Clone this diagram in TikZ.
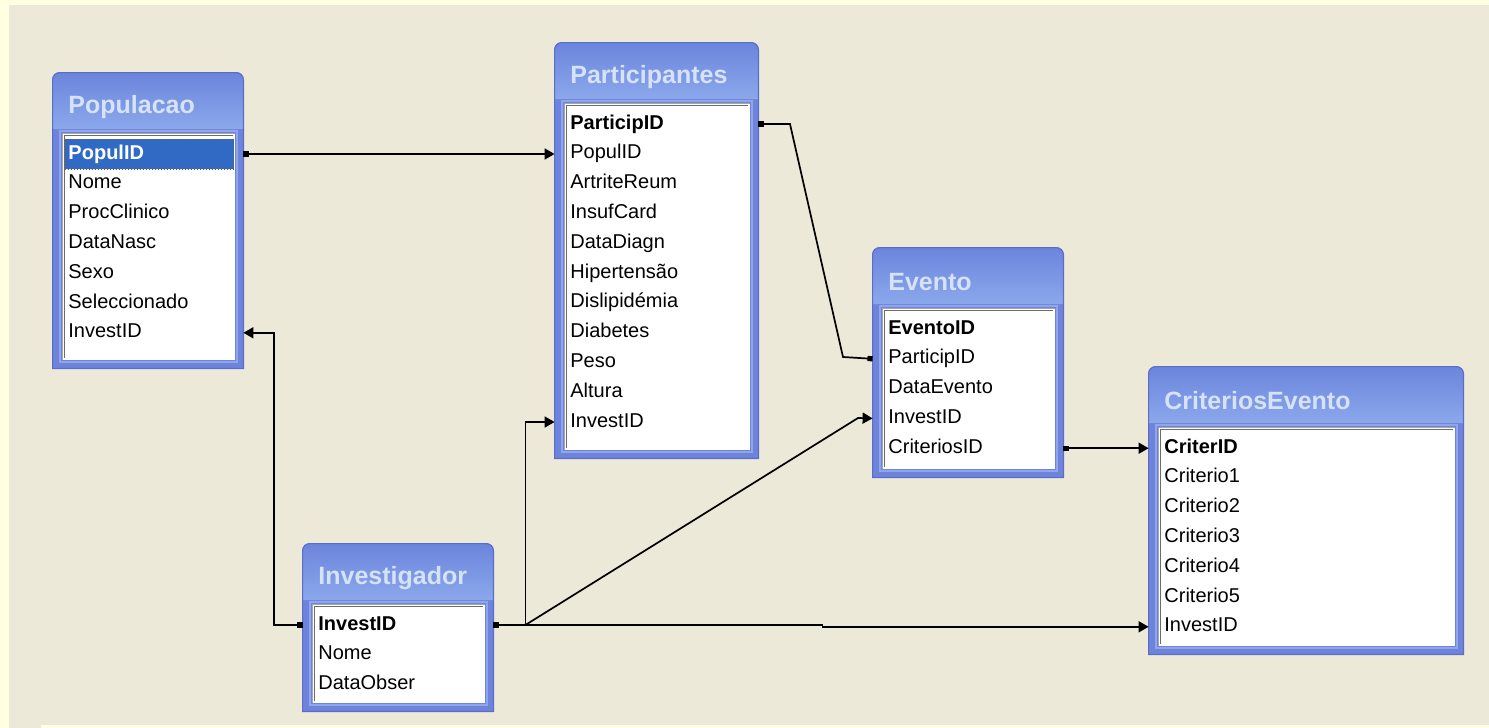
\documentclass[tikz,border=0pt]{standalone}
\usepackage{fontspec}
\setmainfont{Liberation Sans}
\usetikzlibrary{fit,arrows.meta}

\definecolor{paper}{HTML}{ECE9D8}
\definecolor{tipyellow}{HTML}{FFFFE1}
\definecolor{frameblue}{HTML}{6E83DA}
\definecolor{framelight}{HTML}{8FA5EC}
\definecolor{frameedge}{HTML}{5A6DCB}
\definecolor{captop}{HTML}{6B85DC}
\definecolor{capbot}{HTML}{8BA8EC}
\definecolor{captext}{HTML}{D6E2F8}
\definecolor{selblue}{HTML}{316AC5}
\definecolor{sunken}{HTML}{6E6C66}
\definecolor{focusdot}{HTML}{7A5A20}

\newcommand{\fieldfont}{\fontsize{10pt}{12pt}\selectfont}
\newcommand{\titlefont}{\fontsize{12.5pt}{15pt}\selectfont\bfseries}

\tikzset{
  field/.style={anchor=west, inner sep=0pt, font=\fieldfont, text=black,
    text height=7.2pt, text depth=2.2pt},
  keyfield/.style={field, font=\fieldfont\bfseries},
  selrow/.style={fill=selblue, text=white, draw=focusdot, densely dotted, line width=0.5pt,
    inner xsep=2pt, inner ysep=0pt, text width=80.5pt, minimum height=15pt},
  tabtitle/.style={anchor=west, inner sep=0pt, font=\titlefont, text=captext},
  rel/.style={draw=black, line width=0.85pt},
  onetip/.tip={Square[length=2.6pt,width=2.6pt]},
  manytip/.tip={Triangle[length=5pt,width=5.5pt]}
}

% \dbtable{name}{x0}{y0}{x1}{y1}{title}{fields}{style of first field}
\newcommand{\dbtable}[8]{%
  \pgfmathsetmacro{\lxa}{#2+9}%
  \pgfmathsetmacro{\lya}{#3+60}%
  \pgfmathsetmacro{\lxb}{#4-8}%
  \pgfmathsetmacro{\lyb}{#5-8}%
  \pgfmathsetmacro{\capb}{#3+56}%
  \pgfmathsetmacro{\tx}{#2+15}%
  \pgfmathsetmacro{\ty}{#3+34}%
  \node[fit={(#2,#3) (#4,#5)}, inner sep=0pt] (#1) {};
  % window body and caption
  \fill[frameblue] (#1.south west) [rounded corners=3.5pt] -- (#1.north west)
     -- (#1.north east) [sharp corners] -- (#1.south east) -- cycle;
  \shade[top color=captop, bottom color=capbot] (#2,\capb) [rounded corners=3.5pt]
     -- (#1.north west) -- (#1.north east) [sharp corners] -- (#4,\capb) -- cycle;
  \draw[framelight, line width=1pt] (\lxa-2,\lya-2) rectangle (\lxb+2,\lyb+2);
  \draw[frameedge, line width=0.6pt] (#1.south west) [rounded corners=3.5pt] -- (#1.north west)
     -- (#1.north east) [sharp corners] -- (#1.south east) -- cycle;
  % field list
  \fill[white] (\lxa,\lya) rectangle (\lxb,\lyb);
  \draw[sunken!60, line width=0.8pt] (\lxa+0.5,\lyb) -- (\lxa+0.5,\lya+0.5) -- (\lxb,\lya+0.5);
  \draw[sunken, line width=0.6pt] (\lxa+2.5,\lyb-2) -- (\lxa+2.5,\lya+2.5) -- (\lxb-2,\lya+2.5);
  \node[tabtitle] (#1-title) at (\tx,\ty) {#6};
  \foreach \f [count=\i] in {#7} {
    \pgfmathsetmacro{\ry}{\lya+21+(\i-1)*29.8}
    \ifnum\i=1
      \node[keyfield, #8] (#1-r\i) at (\lxa+6,\ry) {\f};
    \else
      \node[field] (#1-r\i) at (\lxa+6,\ry) {\f};
    \fi
  }
}

\begin{document}
\begin{tikzpicture}[x=0.5pt, y=-0.5pt]
  \useasboundingbox (0,0) rectangle (1489,728);
  % workspace
  \fill[tipyellow] (0,0) rectangle (1489,728);
  \fill[paper] (9,5) rectangle (1489,728);
  \fill[tipyellow] (41,725) rectangle (1489,728);

  \dbtable{pop}{53}{73}{243}{368}{Populacao}
    {PopulID,Nome,ProcClinico,DataNasc,Sexo,Seleccionado,InvestID}
    {selrow, xshift=-2pt}
  \dbtable{part}{555}{43}{758}{458}{Participantes}
    {ParticipID,PopulID,ArtriteReum,InsufCard,DataDiagn,Hipertensão,Dislipidémia,Diabetes,Peso,Altura,InvestID}{}
  \dbtable{ev}{873}{248}{1063}{477}{Evento}
    {EventoID,ParticipID,DataEvento,InvestID,CriteriosID}{}
  \dbtable{crit}{1149}{367}{1463}{654}{CriteriosEvento}
    {CriterID,Criterio1,Criterio2,Criterio3,Criterio4,Criterio5,InvestID}{}
  \dbtable{inv}{303}{544}{493}{711}{Investigador}
    {InvestID,Nome,DataObser}{}

  % bend points of the join lines
  \coordinate (partbendA) at (790,122);
  \coordinate (partbendB) at (843,357);
  \coordinate (popbend) at (274,450);
  \coordinate (jn) at ([xshift=16pt]inv.east |- inv-r1);
  \coordinate (evbend) at (858,418);

  % relationships
  \draw[rel, onetip-manytip] (pop.east |- pop-r1) -- (part.west |- pop-r1);
  \draw[rel, onetip-onetip] (part.east |- part-r1) -- (partbendA |- part-r1)
     -- (partbendB) -- (ev.west |- ev-r2);
  \draw[rel, onetip-manytip] (inv.west |- inv-r1) -| (popbend) |- (pop.east |- pop-r7);
  \draw[rel, onetip-] (inv.east |- inv-r1) -- (jn);
  \draw[rel, -manytip] (jn) |- (part.west |- part-r11);
  \draw[rel, -manytip] (jn) -- (evbend) -- (ev.west |- ev-r4);
  \draw[rel, -manytip] (jn) -- ++(297,0) |- (crit.west |- crit-r7);
  \draw[rel, onetip-manytip] (ev.east |- ev-r5) -- (crit.west |- ev-r5);
\end{tikzpicture}
\end{document}
